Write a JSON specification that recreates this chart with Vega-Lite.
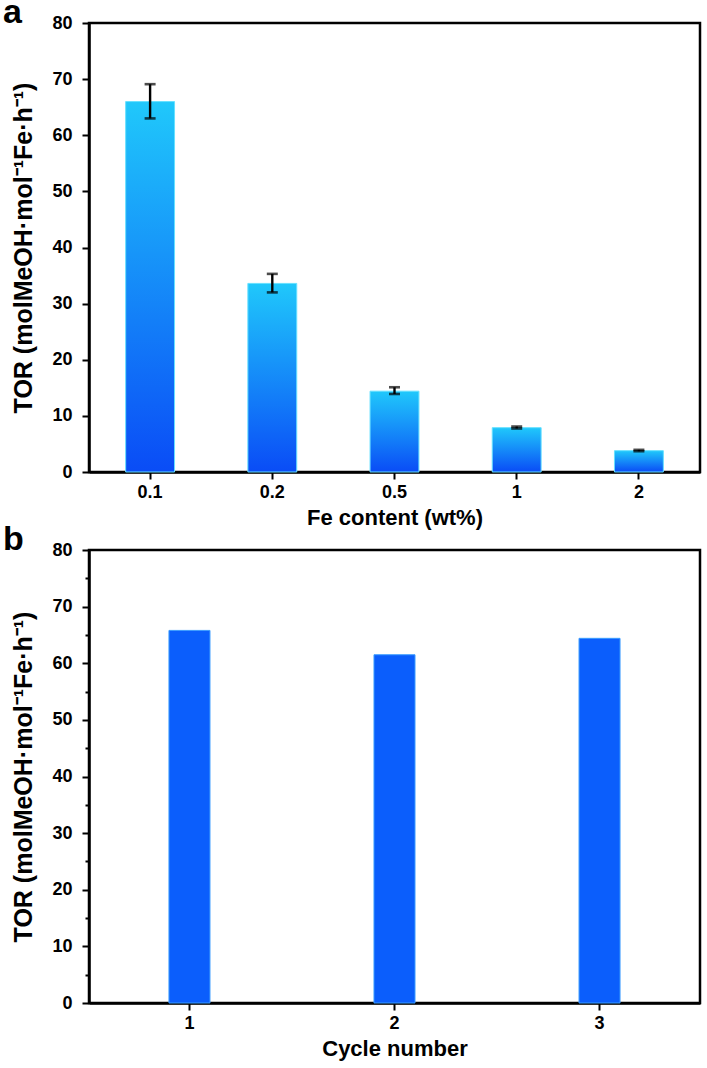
{
  "$schema": "https://vega.github.io/schema/vega-lite/v6.json",
  "padding": {"left": 1, "top": -6, "right": 5, "bottom": 0},
  "background": "white",
  "spacing": -9,
  "config": {
    "font": "Liberation Sans",
    "view": {"stroke": "black", "strokeWidth": 2.5},
    "axis": {
      "domainColor": "black", "domainWidth": 2.5,
      "tickColor": "black", "tickWidth": 2, "tickSize": 7,
      "labelColor": "black", "labelFont": "Liberation Sans", "labelFontSize": 18, "labelFontWeight": "bold",
      "titleColor": "black", "titleFont": "Liberation Sans", "titleFontSize": 22, "titleFontWeight": "bold",
      "grid": false, "labelPadding": 4
    },
    "title": {"fontSize": 34, "fontWeight": "bold", "color": "black", "anchor": "start", "frame": "group", "font": "Liberation Sans"}
  },
  "vconcat": [
    {
      "width": 611,
      "height": 449,
      "title": {"text": "a", "dx": -86, "offset": 0, "dy": 43, "baseline": "alphabetic"},
      "data": {"values": [
        {"fe": "0.1", "tor": 66.0, "lo": 63.0, "hi": 69.1},
        {"fe": "0.2", "tor": 33.6, "lo": 32.0, "hi": 35.3},
        {"fe": "0.5", "tor": 14.4, "lo": 13.9, "hi": 15.1},
        {"fe": "1", "tor": 7.9, "lo": 7.75, "hi": 8.1},
        {"fe": "2", "tor": 3.8, "lo": 3.7, "hi": 3.95}
      ]},
      "encoding": {
        "x": {"field": "fe", "type": "ordinal", "sort": null,
              "scale": {"paddingInner": 0.6, "paddingOuter": 0.3},
              "axis": {"labelAngle": 0, "title": "Fe content (wt%)", "titlePadding": 6}}
      },
      "layer": [
        {
          "mark": {"type": "bar", "stroke": "#66e0ff", "strokeWidth": 1,
                   "color": {"gradient": "linear", "x1": 0, "y1": 1, "x2": 0, "y2": 0,
                             "stops": [{"offset": 0, "color": "#0a4cf6"}, {"offset": 1, "color": "#20c8fb"}]}},
          "encoding": {
            "y": {"field": "tor", "type": "quantitative", "title": "TOR (molMeOH·mol⁻¹Fe·h⁻¹)",
                  "scale": {"domain": [0, 80], "nice": false},
                  "axis": {"values": [0, 5, 10, 15, 20, 25, 30, 35, 40, 45, 50, 55, 60, 65, 70, 75, 80],
                           "labelExpr": "datum.value % 10 === 0 ? datum.label : ''",
                           "tickSize": {"condition": {"test": "datum.value % 10 !== 0", "value": 4}, "value": 7},
                           "labelPadding": 10, "titleFontSize": 25, "titlePadding": 15}}
          }
        },
        {
          "mark": {"type": "rule", "color": "black", "strokeWidth": 2.4},
          "encoding": {
            "y": {"field": "lo", "type": "quantitative", "title": "TOR (molMeOH·mol⁻¹Fe·h⁻¹)"},
            "y2": {"field": "hi"}
          }
        },
        {
          "mark": {"type": "tick", "color": "black", "thickness": 2.6, "size": 11},
          "encoding": {"y": {"field": "lo", "type": "quantitative", "title": "TOR (molMeOH·mol⁻¹Fe·h⁻¹)"}}
        },
        {
          "mark": {"type": "tick", "color": "black", "thickness": 2.6, "size": 11},
          "encoding": {"y": {"field": "hi", "type": "quantitative", "title": "TOR (molMeOH·mol⁻¹Fe·h⁻¹)"}}
        }
      ]
    },
    {
      "width": 611,
      "height": 453,
      "title": {"text": "b", "dx": -86, "offset": 0, "dy": 43, "baseline": "alphabetic"},
      "data": {"values": [
        {"cycle": "1", "tor": 65.8},
        {"cycle": "2", "tor": 61.5},
        {"cycle": "3", "tor": 64.4}
      ]},
      "mark": {"type": "bar", "color": "#0b5efc", "stroke": "#3a9cff", "strokeWidth": 1},
      "encoding": {
        "x": {"field": "cycle", "type": "ordinal", "sort": null,
              "scale": {"paddingInner": 0.8, "paddingOuter": 0.39},
              "axis": {"labelAngle": 0, "title": "Cycle number", "titlePadding": 6}},
        "y": {"field": "tor", "type": "quantitative", "title": "TOR (molMeOH·mol⁻¹Fe·h⁻¹)",
              "scale": {"domain": [0, 80], "nice": false},
              "axis": {"values": [0, 5, 10, 15, 20, 25, 30, 35, 40, 45, 50, 55, 60, 65, 70, 75, 80],
                       "labelExpr": "datum.value % 10 === 0 ? datum.label : ''",
                       "tickSize": {"condition": {"test": "datum.value % 10 !== 0", "value": 4}, "value": 7},
                       "labelPadding": 10, "titleFontSize": 25, "titlePadding": 15}}
      }
    }
  ]
}
